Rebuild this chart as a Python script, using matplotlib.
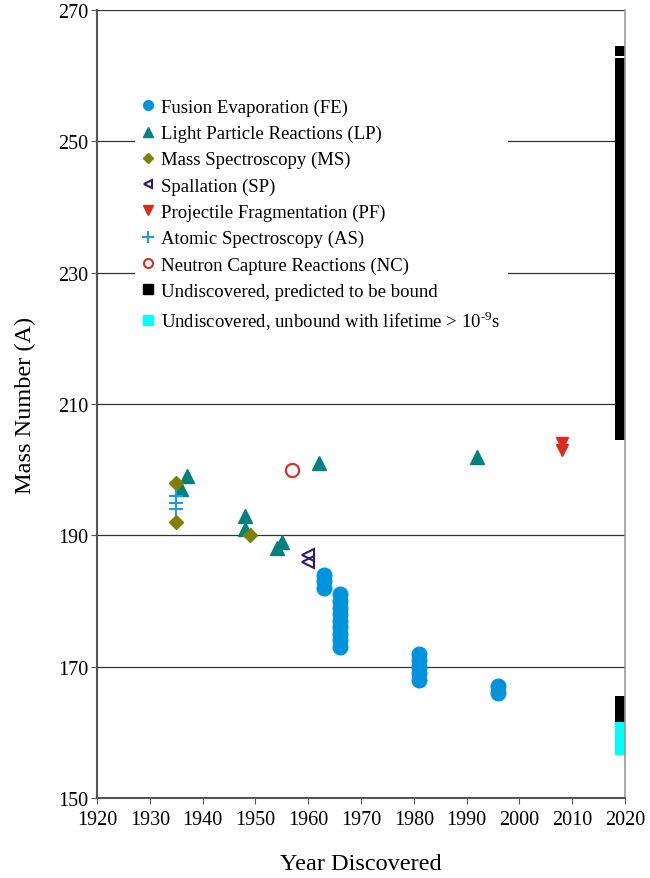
import matplotlib
matplotlib.use("Agg")
import matplotlib.pyplot as plt
from matplotlib.lines import Line2D

plt.rcParams['font.family'] = ['Liberation Serif', 'DejaVu Serif']
plt.rcParams['mathtext.fontset'] = 'stix'

# ---- data ----
fe_years = [1963]*3 + [1966]*9 + [1981]*5 + [1996]*2
fe_mass = [182, 183, 184, 173, 174, 175, 176, 177, 178, 179, 180, 181,
           168, 169, 170, 171, 172, 166, 167]
lp_years = [1936, 1937, 1948, 1948, 1954, 1955, 1962, 1992]
lp_mass = [197, 199, 191, 193, 188, 189, 201, 202]
ms_years = [1935, 1935, 1949]
ms_mass = [192, 198, 190]
sp_years = [1960, 1960]
sp_mass = [186, 187]
pf_years = [2008, 2008]
pf_mass = [203, 204]
as_years = [1935, 1935, 1935]
as_mass = [194, 195, 196]
nc_years = [1957]
nc_mass = [200]
bound_low = [204.5, 263.0, 161.5]
bound_high = [262.7, 264.5, 165.5]
unbound_low = [156.5]
unbound_high = [161.5]

labels = ["Fusion Evaporation (FE)", "Light Particle Reactions (LP)",
          "Mass Spectroscopy (MS)", "Spallation (SP)",
          "Projectile Fragmentation (PF)", "Atomic Spectroscopy (AS)",
          "Neutron Capture Reactions (NC)",
          "Undiscovered, predicted to be bound",
          r"Undiscovered, unbound with lifetime > 10$^{\mathregular{\text{-}9}}$s"]

c_fe = '#0093DD'
c_lp = '#00807F'
c_ms = '#808000'
c_sp = '#2A1D72'
c_pf = '#DD2A1E'
c_as = '#1E9BE0'
c_nc = '#DD2A1E'

fig = plt.figure(figsize=(6.5, 8.79), dpi=100)
ax = fig.add_axes([97/650, 80/879, 528/650, 788/879])

for y in [170, 190, 210, 230, 250, 270]:
    ax.axhline(y, color='#333333', lw=0.9, zorder=1)

ax.plot(fe_years, fe_mass, 'o', color=c_fe, ms=10.5, mec=c_fe, zorder=3)
ax.plot(lp_years, lp_mass, '^', color=c_lp, ms=10, zorder=3)
ax.plot(ms_years, ms_mass, 'D', color=c_ms, ms=7.5, zorder=3)
ax.plot(sp_years, sp_mass, '<', mfc='none', mec=c_sp, mew=1.5, ms=9, zorder=3)
ax.plot(pf_years, pf_mass, 'v', color=c_pf, ms=9, zorder=3)
ax.plot(as_years, as_mass, '+', color=c_as, ms=10, mew=1.5, zorder=3)
ax.plot(nc_years, nc_mass, 'o', mfc='none', mec=c_nc, mew=1.5, ms=9.5, zorder=3)

for lo, hi in zip(bound_low, bound_high):
    ax.bar(2019.05, hi - lo, bottom=lo, width=1.9, color='black', zorder=2)
for lo, hi in zip(unbound_low, unbound_high):
    ax.bar(2019.05, hi - lo, bottom=lo, width=1.9, color='#00FFFF', zorder=2)

ax.set_xlim(1920, 2020)
ax.set_ylim(150, 270)
ax.set_xticks(range(1920, 2021, 10))
ax.set_yticks(range(150, 271, 20))
ax.tick_params(labelsize=14.5, direction='out', length=4, color='#555555')
ax.tick_params(axis='x', pad=5)
ax.tick_params(axis='y', pad=2)
for s in ['left', 'bottom']:
    ax.spines[s].set_color('#555555')
    ax.spines[s].set_linewidth(1.5)
ax.spines['right'].set_color('#999999')
ax.spines['right'].set_linewidth(1.2)
ax.spines['top'].set_visible(False)

ax.set_xlabel("Year Discovered", fontsize=17.5, labelpad=17)
ax.set_ylabel("Mass Number (A)", fontsize=17.5, labelpad=16)

handles = [
    Line2D([], [], ls='none', marker='o', color=c_fe, ms=7),
    Line2D([], [], ls='none', marker='^', color=c_lp, ms=7),
    Line2D([], [], ls='none', marker='D', color=c_ms, ms=5.5),
    Line2D([], [], ls='none', marker='<', mfc='none', mec=c_sp, mew=1.5, ms=6),
    Line2D([], [], ls='none', marker='v', color=c_pf, ms=7),
    Line2D([], [], ls='none', marker='+', color=c_as, ms=9, mew=1.5),
    Line2D([], [], ls='none', marker='o', mfc='none', mec=c_nc, mew=1.5, ms=6.5),
    Line2D([], [], ls='none', marker='s', color='black', ms=7),
    Line2D([], [], ls='none', marker='s', color='#00FFFF', ms=7),
]
leg = ax.legend(handles, labels, loc='upper left',
                bbox_to_anchor=(135/650, 1 - 92/879), bbox_transform=fig.transFigure,
                fontsize=13.5, frameon=True, facecolor='white', edgecolor='none',
                framealpha=1, fancybox=False, handlelength=0.6, handletextpad=0.4,
                labelspacing=0.48, borderpad=0.4, borderaxespad=0)
leg.set_zorder(5)

fig.savefig("out.png", dpi=100)
